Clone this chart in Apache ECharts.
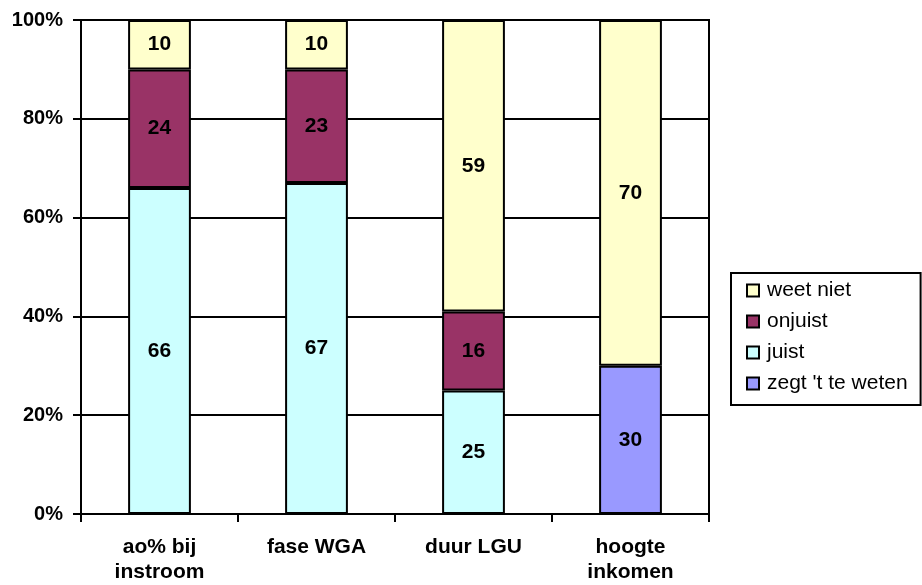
<!DOCTYPE html>
<html>
<head>
<meta charset="utf-8">
<script src="https://cdn.jsdelivr.net/npm/echarts@6/dist/echarts.min.js"></script>
<style>
html,body{margin:0;padding:0;background:#fff;}
#chart{width:922px;height:585px;}
</style>
</head>
<body>
<div id="chart"></div>
<script>
var categories = ['ao% bij\ninstroom', 'fase WGA', 'duur LGU', 'hoogte\ninkomen'];
var zegtTeWeten = [null, null, null, 30];
var juist = [66, 67, 25, null];
var onjuist = [24, 23, 16, null];
var weetNiet = [10, 10, 59, 70];
var yTicks = [0, 20, 40, 60, 80, 100];

var FONT = '"Liberation Sans", Arial, sans-serif';
var chart = echarts.init(document.getElementById('chart'), null, {renderer: 'canvas'});

function barSeries(name, data, color) {
  return {
    name: name,
    type: 'bar',
    stack: 'total',
    data: data,
    barWidth: '40%',
    itemStyle: {color: color, borderColor: '#000', borderWidth: 2},
    label: {
      show: true,
      position: 'inside',
      color: '#000',
      fontFamily: FONT,
      fontWeight: 'bold',
      fontSize: 21
    },
    emphasis: {disabled: true}
  };
}

chart.setOption({
  animation: false,
  backgroundColor: '#fff',
  grid: {
    left: 81, right: 213, top: 20, bottom: 71,
    show: true, borderColor: '#000', borderWidth: 2, backgroundColor: 'transparent'
  },
  legend: {
    orient: 'vertical',
    left: 731,
    top: 273,
    data: ['weet niet', 'onjuist', 'juist', "zegt 't te weten"],
    icon: 'rect',
    itemWidth: 12,
    itemHeight: 12,
    itemGap: 10,
    padding: [7, 13, 11, 15],
    borderColor: '#000',
    borderWidth: 2,
    textStyle: {
      fontFamily: FONT,
      fontSize: 21,
      color: '#000',
      lineHeight: 21,
      padding: [0, 0, 0, 3]
    }
  },
  xAxis: {
    type: 'category',
    data: categories,
    axisLine: {lineStyle: {color: '#000', width: 2}},
    axisTick: {show: true, length: 8, lineStyle: {color: '#000', width: 2}},
    axisLabel: {
      color: '#000',
      fontFamily: FONT,
      fontWeight: 'bold',
      fontSize: 21,
      lineHeight: 25,
      margin: 21,
      interval: 0
    }
  },
  yAxis: {
    type: 'value',
    min: yTicks[0],
    max: yTicks[yTicks.length - 1],
    interval: yTicks[1] - yTicks[0],
    axisLine: {show: true, lineStyle: {color: '#000', width: 2}},
    axisTick: {show: true, length: 8, lineStyle: {color: '#000', width: 2}},
    splitLine: {show: true, lineStyle: {color: '#000', width: 2}},
    axisLabel: {
      color: '#000',
      fontFamily: FONT,
      fontWeight: 'bold',
      fontSize: 20,
      margin: 18,
      formatter: '{value}%'
    }
  },
  series: [
    barSeries("zegt 't te weten", zegtTeWeten, '#9999FF'),
    barSeries('juist', juist, '#CCFFFF'),
    barSeries('onjuist', onjuist, '#993366'),
    barSeries('weet niet', weetNiet, '#FFFFCC')
  ]
});
</script>
</body>
</html>
